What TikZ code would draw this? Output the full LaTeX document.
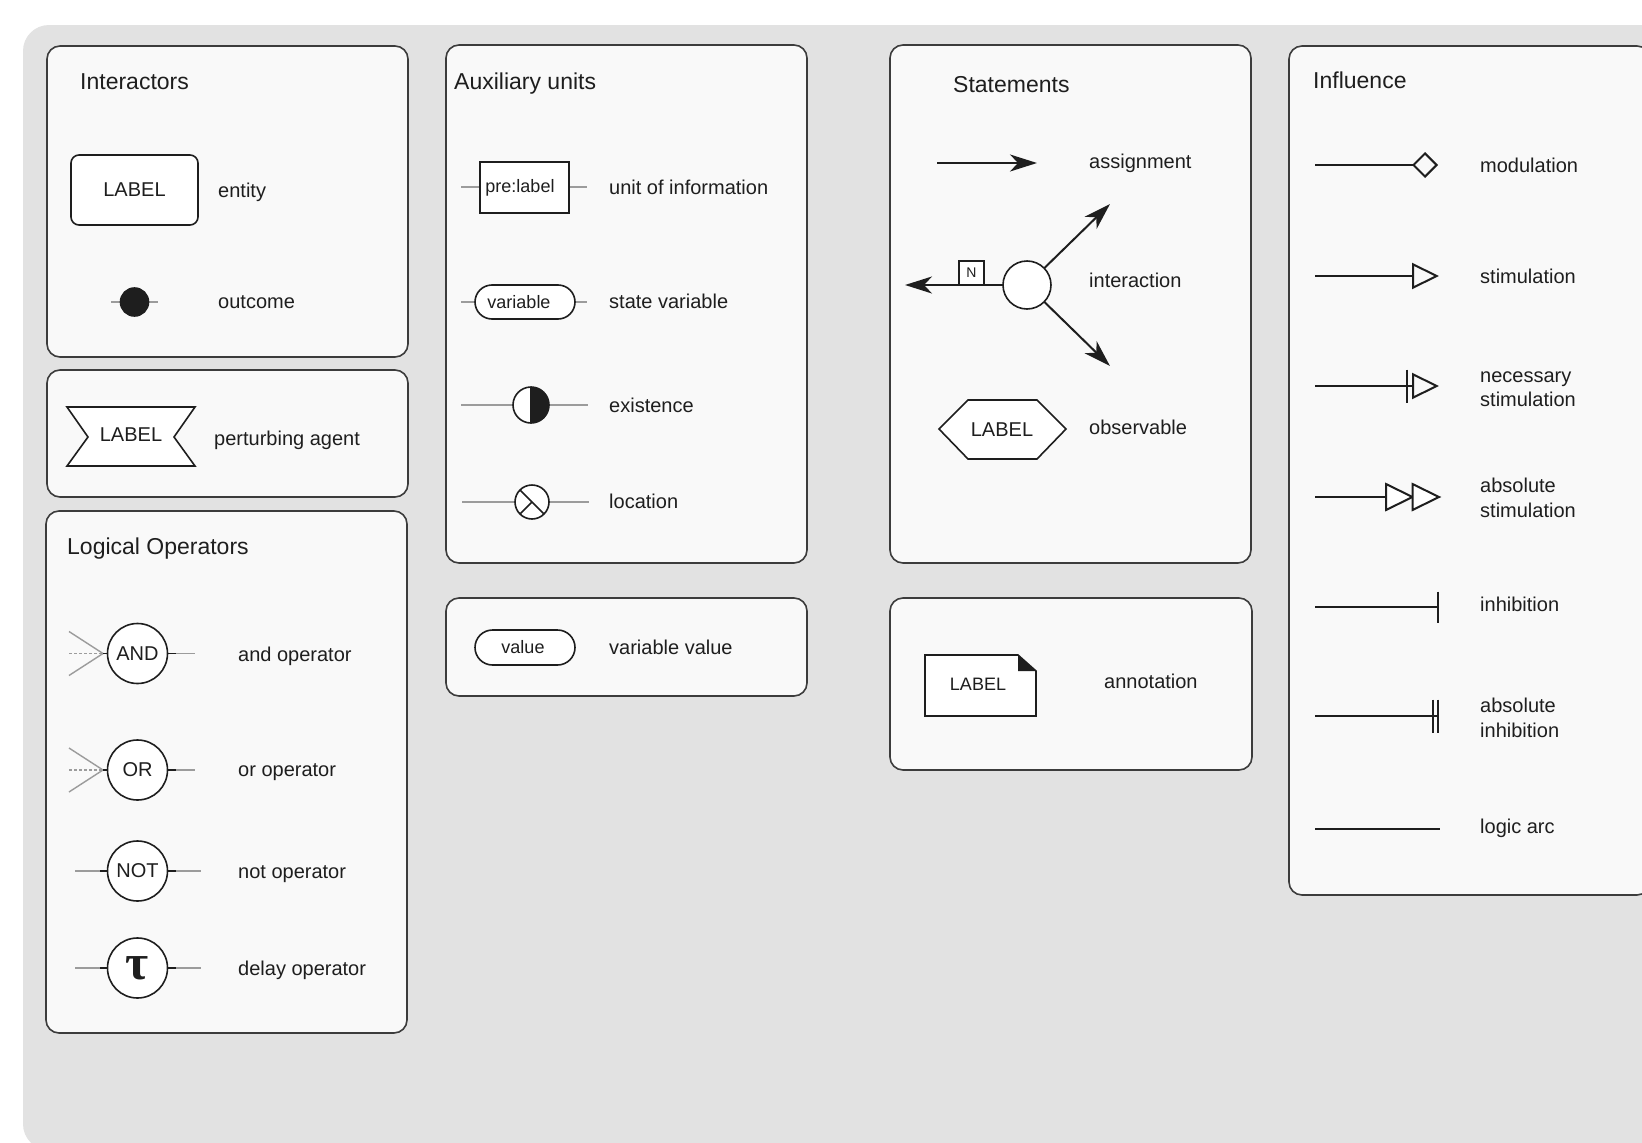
\documentclass[tikz,border=0pt]{standalone}
\usepackage{fontspec}
\setmainfont{Liberation Sans}
\newfontfamily\taufont{Liberation Serif}
\usetikzlibrary{arrows.meta,shapes.misc}

\definecolor{canvas}{HTML}{E2E2E2}
\definecolor{panelfill}{HTML}{F9F9F9}
\definecolor{panelline}{HTML}{3C3C3C}
\definecolor{ink}{HTML}{1E1E1E}
\definecolor{stubgray}{HTML}{9C9C9C}

\newcommand\hdfont{\fontsize{23}{27}\selectfont}
\newcommand\lbfont{\fontsize{20}{24}\selectfont}
\newcommand\smfont{\fontsize{18}{22}\selectfont}
\newcommand\delaysym{{\taufont\bfseries\fontsize{50}{50}\selectfont τ}}

\begin{document}
\begin{tikzpicture}[x=1pt,y=-1pt,
  panel/.style={draw=panelline, fill=panelfill, line width=1.6pt, rounded corners=13pt},
  head/.style={font=\hdfont, text=ink, anchor=base west, inner sep=0pt},
  lbl/.style={font=\lbfont, text=ink, anchor=base west, inner sep=0pt},
  glyph/.style={draw=ink, fill=white, line width=1.6pt, text=ink, inner sep=0pt, outer sep=0pt},
  outline/.style={draw=ink, fill=white, line width=1.6pt},
  stub/.style={draw=stubgray, line width=1.4pt},
  tick/.style={draw=ink, line width=1.5pt},
  edge/.style={draw=ink, line width=2pt},
  op/.style={glyph, circle, minimum size=60pt, font=\lbfont},
  >={Stealth[length=27pt,width=17pt,inset=8pt]},
  modtip/.tip={Diamond[open,length=26pt,width=26pt]},
  stimtip/.tip={Triangle[open,length=27pt,width=26pt]},
  inhtip/.tip={Bar[width=31pt]}
]
\useasboundingbox (0,0) rectangle (1642,1143);
\clip (0,0) rectangle (1642,1143);
\fill[white] (0,0) rectangle (1642,1143);
\fill[canvas, rounded corners=26pt] (23,25) rectangle (1720,1150);

% ---------- panels ----------
\draw[panel] (47,46) rectangle (408,357);
\draw[panel] (47,370) rectangle (408,497);
\draw[panel] (46,511) rectangle (407,1033);
\draw[panel] (446,45) rectangle (807,563);
\draw[panel] (446,598) rectangle (807,696);
\draw[panel] (890,45) rectangle (1251,563);
\draw[panel] (890,598) rectangle (1252,770);
\draw[panel] (1289,46) rectangle (1650,895);

% ---------- Interactors ----------
\node[head] (hInter) at (80,89) {Interactors};
\node[glyph, rounded corners=8pt, minimum width=127pt, minimum height=70pt, font=\lbfont] (entity) at (134.5,190) {LABEL};
\node[lbl] (tEntity) at (218,197) {entity};
\coordinate (outL) at (111,302);
\coordinate (outR) at (158,302);
\draw[stub] (outL) -- (outR);
\node[glyph, fill=ink, circle, minimum size=28pt] (outcome) at (134.5,302) {};
\node[lbl] (tOutcome) at (218,308) {outcome};

% ---------- perturbing agent ----------
\draw[outline] (67,407) -- (195,407) -- (174,437) -- (195,466) -- (67,466) -- (88,437) -- cycle;
\node[font=\lbfont, text=ink] (pert) at (131,435) {LABEL};
\node[lbl] (tPert) at (214,445) {perturbing agent};

% ---------- Logical operators ----------
\node[head] (hLogic) at (67,554) {Logical Operators};
\foreach \n/\yy/\t in {and/653.5/AND, or/770/OR}{
  \coordinate (\n J) at (103,\yy);
  \coordinate (\n A) at (69,\yy-22);
  \coordinate (\n B) at (69,\yy+22);
  \coordinate (\n C) at (69,\yy);
  \coordinate (\n K) at (176,\yy);
  \coordinate (\n O) at (195,\yy);
  \draw[stub] (\n A) -- (\n J) -- (\n B);
  \draw[stub, dash pattern=on 3pt off 2pt] (\n C) -- (\n J);
  \node[op] (\n) at (137.5,\yy) {\t};
  \draw[tick] (\n J) -- (\n.west);
  \draw[tick] (\n.east) -- (\n K);
  \draw[stub] (\n K) -- (\n O);
}
\foreach \n/\yy/\t in {not/871/NOT, delay/968/\delaysym}{
  \coordinate (\n L) at (75,\yy);
  \coordinate (\n J) at (100,\yy);
  \coordinate (\n K) at (176,\yy);
  \coordinate (\n O) at (201,\yy);
  \node[op] (\n) at (137.5,\yy) {\t};
  \draw[stub] (\n L) -- (\n J);
  \draw[tick] (\n J) -- (\n.west);
  \draw[tick] (\n.east) -- (\n K);
  \draw[stub] (\n K) -- (\n O);
}
\node[lbl] (tAnd) at (238,661) {and operator};
\node[lbl] (tOr) at (238,776) {or operator};
\node[lbl] (tNot) at (238,878) {not operator};
\node[lbl] (tDelay) at (238,975) {delay operator};

% ---------- Auxiliary units ----------
\node[head] (hAux) at (454,89) {Auxiliary units};
\coordinate (uoiL) at (461,187);
\coordinate (uoiR) at (587,187);
\draw[stub] (uoiL) -- (uoiR);
\node[glyph, minimum width=89pt, minimum height=51pt] (uoi) at (524.5,187.5) {};
\node[font=\smfont, text=ink, anchor=base, inner sep=0pt] (uoiText) at (520,192) {pre:label};
\node[lbl] (tUoi) at (609,194) {unit of information};

\coordinate (svL) at (461,302);
\coordinate (svR) at (587,302);
\draw[stub] (svL) -- (svR);
\node[glyph, rounded rectangle, minimum width=100pt, minimum height=34pt] (sv) at (525,302) {};
\node[font=\smfont, text=ink, anchor=base, inner sep=0pt] (svText) at (519,308) {variable};
\node[lbl] (tSv) at (609,308) {state variable};

\coordinate (exL) at (461,405);
\coordinate (exR) at (588,405);
\draw[stub] (exL) -- (exR);
\node[circle, fill=white, minimum size=36pt, inner sep=0pt, outer sep=0pt] (exist) at (531,405) {};
\begin{scope}
  \clip (531,380) rectangle (560,430);
  \fill[ink] (exist.center) circle[radius=18pt];
\end{scope}
\draw[ink, line width=1.6pt] (exist.center) circle[radius=18pt];
\draw[ink, line width=1.6pt] (exist.north) -- (exist.south);
\node[lbl] (tExist) at (609,412) {existence};

\coordinate (locL) at (462,502);
\coordinate (locR) at (589,502);
\draw[stub] (locL) -- (locR);
\node[glyph, circle, minimum size=34pt] (loc) at (532,502) {};
\draw[ink, line width=1.6pt] (loc.north west) -- (loc.south east) (loc.center) -- (loc.south west);
\node[lbl] (tLoc) at (609,508) {location};

% ---------- variable value ----------
\node[glyph, rounded rectangle, minimum width=100pt, minimum height=35pt] (val) at (525,647.5) {};
\node[font=\smfont, text=ink, anchor=base, inner sep=0pt] (valText) at (523,653.5) {value};
\node[lbl] (tVal) at (609,654) {variable value};

% ---------- Statements ----------
\node[head] (hStat) at (953,92) {Statements};
\coordinate (asgS) at (937,163);
\coordinate (asgE) at (1037,163);
\draw[edge, ->] (asgS) -- (asgE);
\node[lbl] (tAsg) at (1089,168) {assignment};

\node[glyph, circle, minimum size=48pt] (inter) at (1027,285) {};
\coordinate (interW) at (905,285);
\coordinate (interNE) at (1110,204);
\coordinate (interSE) at (1110,366);
\draw[edge, ->] (inter) -- (interW);
\draw[edge, ->] (inter) -- (interNE);
\draw[edge, ->] (inter) -- (interSE);
\node[glyph, line width=1.4pt, minimum width=25pt, minimum height=24pt, font=\fontsize{14}{16}\selectfont] (stoich) at (971.5,273) {N};
\node[lbl] (tInter) at (1089,287) {interaction};

\draw[outline] (939,429) -- (968,400) -- (1037,400) -- (1066,429) -- (1037,459) -- (968,459) -- cycle;
\node[font=\lbfont, text=ink] (obs) at (1002,430) {LABEL};
\node[lbl] (tObs) at (1089,434) {observable};

% ---------- annotation ----------
\draw[outline] (925,655) -- (1018,655) -- (1036,671) -- (1036,716) -- (925,716) -- cycle;
\fill[ink] (1018,655) -- (1018,671) -- (1036,671) -- cycle;
\node[font=\smfont, text=ink] (note) at (978,684) {LABEL};
\node[lbl] (tNote) at (1104,688) {annotation};

% ---------- Influence ----------
\node[head] (hInfl) at (1313,88) {Influence};
\coordinate (modS) at (1315,165);   \coordinate (modE) at (1438,165);
\coordinate (stimS) at (1315,276);  \coordinate (stimE) at (1439,276);
\coordinate (necS) at (1315,386);   \coordinate (necE) at (1439,386);
\coordinate (absS) at (1315,497);   \coordinate (absM) at (1386,497);
\coordinate (absE) at (1439,497);
\coordinate (inhS) at (1315,607);   \coordinate (inhE) at (1439,607);
\coordinate (ainhS) at (1315,716);  \coordinate (ainhE) at (1439,716);
\coordinate (logS) at (1315,829);   \coordinate (logE) at (1440,829);
\draw[edge, -{modtip}] (modS) -- (modE);
\draw[edge, -{stimtip}] (stimS) -- (stimE);
\draw[edge, -{Bar[width=33pt,sep=4pt]stimtip}] (necS) -- (necE);
% absolute stimulation: two equal open triangles in a row
\draw[edge] (absS) -- (absM);
\draw[outline, line width=2pt, line join=miter] (absM) -- ++(0,-13) -- ++(26.5,13) -- ++(-26.5,13) -- cycle;
\draw[outline, line width=2pt, line join=miter] (absE) -- ++(-26.5,-13) -- ++(0,26) -- cycle;
\draw[edge, -{inhtip}] (inhS) -- (inhE);
\draw[edge, -{Bar[width=33pt,sep=3pt]Bar[width=33pt]}] (ainhS) -- (ainhE);
\draw[edge] (logS) -- (logE);

\node[lbl] (tMod) at (1480,172) {modulation};
\node[lbl] (tStim) at (1480,283) {stimulation};
\node[lbl] (tNec1) at (1480,382) {necessary};
\node[lbl] (tNec2) at (1480,406) {stimulation};
\node[lbl] (tAbs1) at (1480,492) {absolute};
\node[lbl] (tAbs2) at (1480,517) {stimulation};
\node[lbl] (tInh) at (1480,611) {inhibition};
\node[lbl] (tAinh1) at (1480,712) {absolute};
\node[lbl] (tAinh2) at (1480,737) {inhibition};
\node[lbl] (tLog) at (1480,833) {logic arc};
\end{tikzpicture}
\end{document}
